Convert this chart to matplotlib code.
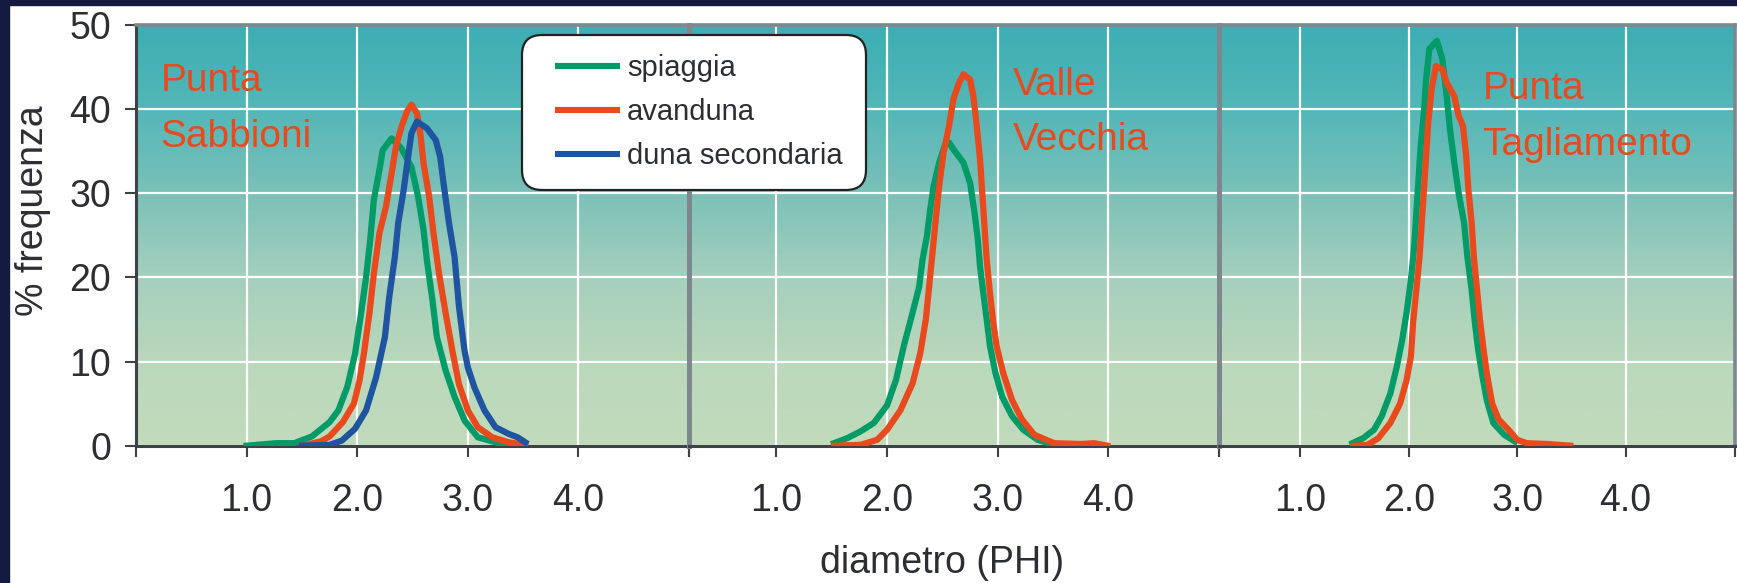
import numpy as np
import matplotlib.pyplot as plt
from matplotlib.colors import LinearSegmentedColormap
from matplotlib.patches import Rectangle, FancyBboxPatch
from matplotlib.lines import Line2D
from matplotlib.transforms import IdentityTransform

plt.rcParams['font.family'] = ['Liberation Sans', 'DejaVu Sans']

# --- dati ---
serie = ["spiaggia", "avanduna", "duna secondaria"]
siti = ["Punta\nSabbioni", "Valle\nVecchia", "Punta\nTagliamento"]

# Punta Sabbioni
ps_spiaggia_x = [1.0, 1.27, 1.43, 1.59, 1.75, 1.83, 1.91, 1.98, 2.03, 2.08, 2.12, 2.15, 2.2, 2.23, 2.31,
                 2.4, 2.49, 2.55, 2.6, 2.63, 2.68, 2.72, 2.8, 2.88, 2.97, 3.09, 3.28, 3.5]
ps_spiaggia_y = [0.0, 0.3, 0.3, 1.1, 2.8, 4.2, 7.0, 10.9, 15.3, 20.0, 24.8, 29.2, 32.7, 35.1, 36.5,
                 35.3, 33.1, 29.6, 25.6, 22.0, 17.3, 12.9, 8.9, 5.8, 3.0, 1.0, 0.3, 0.0]
ps_avanduna_x = [1.5, 1.67, 1.75, 1.87, 1.97, 2.02, 2.06, 2.11, 2.15, 2.2, 2.26, 2.31, 2.35, 2.4, 2.45,
                 2.49, 2.54, 2.57, 2.6, 2.65, 2.69, 2.74, 2.8, 2.86, 2.92, 3.0, 3.09, 3.22, 3.37, 3.52]
ps_avanduna_y = [0.0, 0.5, 1.1, 2.8, 5.0, 7.7, 10.9, 15.7, 20.4, 25.2, 28.4, 32.3, 35.5, 37.9, 39.7,
                 40.5, 39.5, 37.1, 33.5, 29.6, 25.2, 20.4, 15.7, 11.3, 7.3, 4.2, 2.2, 1.0, 0.4, 0.1]
ps_duna_x = [1.5, 1.75, 1.86, 1.98, 2.08, 2.17, 2.25, 2.29, 2.34, 2.37, 2.42, 2.46, 2.49, 2.54, 2.63,
             2.71, 2.75, 2.78, 2.83, 2.88, 2.92, 2.97, 3.0, 3.06, 3.15, 3.25, 3.37, 3.45, 3.52]
ps_duna_y = [0.0, 0.1, 0.6, 2.0, 4.2, 8.1, 12.9, 17.7, 22.4, 26.4, 30.4, 34.3, 37.1, 38.5, 37.7,
             36.3, 34.3, 31.2, 26.4, 22.4, 16.5, 11.3, 9.3, 6.9, 4.2, 2.2, 1.4, 1.0, 0.4]

# Valle Vecchia
vv_spiaggia_x = [1.52, 1.64, 1.76, 1.88, 2.0, 2.08, 2.15, 2.23, 2.29, 2.32, 2.36, 2.39, 2.42, 2.47, 2.52,
                 2.56, 2.6, 2.69, 2.75, 2.79, 2.82, 2.84, 2.87, 2.9, 2.93, 2.98, 3.04, 3.13, 3.23, 3.36, 3.51]
vv_spiaggia_y = [0.3, 0.9, 1.7, 2.7, 4.8, 7.8, 11.8, 15.8, 18.9, 22.1, 24.9, 28.1, 30.8, 33.6, 35.6,
                 36.0, 35.2, 33.6, 31.2, 27.7, 24.5, 21.3, 18.1, 15.0, 11.8, 8.6, 5.8, 3.5, 1.9, 0.7, 0.1]
vv_avanduna_x = [1.52, 1.76, 1.91, 2.0, 2.12, 2.23, 2.3, 2.35, 2.38, 2.41, 2.44, 2.47, 2.51, 2.56, 2.6,
                 2.65, 2.69, 2.75, 2.78, 2.81, 2.84, 2.86, 2.88, 2.9, 2.93, 2.96, 2.99, 3.05, 3.13, 3.22,
                 3.33, 3.51, 3.75, 3.87, 3.99]
vv_avanduna_y = [0.0, 0.1, 0.7, 1.9, 4.2, 7.4, 11.0, 15.0, 18.9, 22.9, 26.9, 30.8, 34.8, 38.0, 41.2,
                 43.1, 44.1, 43.5, 41.5, 38.0, 34.0, 30.0, 26.1, 22.1, 18.1, 14.6, 11.8, 8.6, 5.4, 3.1,
                 1.3, 0.3, 0.2, 0.3, 0.0]

# Punta Tagliamento
pt_spiaggia_x = [1.48, 1.58, 1.68, 1.75, 1.83, 1.89, 1.94, 1.98, 2.02, 2.05, 2.07, 2.09, 2.11, 2.14, 2.16,
                 2.19, 2.26, 2.31, 2.35, 2.38, 2.42, 2.46, 2.51, 2.54, 2.58, 2.61, 2.64, 2.68, 2.72, 2.78,
                 2.88, 2.98]
pt_spiaggia_y = [0.3, 0.9, 1.9, 3.5, 6.2, 9.4, 12.6, 15.8, 19.7, 23.7, 27.7, 31.6, 35.6, 39.6, 43.5,
                 47.1, 48.1, 45.9, 41.5, 37.6, 33.6, 30.0, 26.5, 22.5, 18.5, 14.6, 11.4, 8.2, 5.4, 2.7,
                 1.3, 0.5]
pt_avanduna_x = [1.49, 1.62, 1.72, 1.83, 1.92, 1.98, 2.02, 2.04, 2.07, 2.1, 2.12, 2.14, 2.16, 2.18, 2.21,
                 2.25, 2.31, 2.35, 2.42, 2.46, 2.5, 2.53, 2.55, 2.58, 2.6, 2.63, 2.66, 2.69, 2.72, 2.77,
                 2.83, 2.92, 3.0, 3.09, 3.28, 3.49]
pt_avanduna_y = [0.0, 0.1, 0.9, 2.7, 5.0, 7.8, 10.6, 14.6, 18.5, 22.5, 26.5, 30.4, 34.4, 38.4, 42.3,
                 45.1, 44.7, 43.1, 41.5, 39.2, 38.0, 34.4, 30.4, 26.5, 22.5, 18.5, 14.6, 11.4, 8.6, 5.0,
                 3.1, 1.9, 0.7, 0.3, 0.2, 0.0]

y_ticks = [0, 10, 20, 30, 40, 50]
x_ticks = [1.0, 2.0, 3.0, 4.0]

# --- stile ---
colori = {"spiaggia": "#009b67", "avanduna": "#e84a1e", "duna secondaria": "#1f54a0"}
arancio = "#e84a1e"
testo = "#2b2f33"
grigio = "#7d878d"
scuro = "#3d4247"
W, H = 1737, 583

pannelli = [
    {"sito": siti[0], "xlim": (0.0, 5.0), "pos": [0.0783, 0.2355, 0.3184, 0.7221], "txt": (0.22, 45.4),
     "curve": [("spiaggia", ps_spiaggia_x, ps_spiaggia_y), ("avanduna", ps_avanduna_x, ps_avanduna_y),
               ("duna secondaria", ps_duna_x, ps_duna_y)]},
    {"sito": siti[1], "xlim": (0.21, 5.0), "pos": [0.3967, 0.2355, 0.3051, 0.7221], "txt": (3.14, 45.0),
     "curve": [("spiaggia", vv_spiaggia_x, vv_spiaggia_y), ("avanduna", vv_avanduna_x, vv_avanduna_y)]},
    {"sito": siti[2], "xlim": (0.25, 5.01), "pos": [0.7018, 0.2355, 0.2971, 0.7221], "txt": (2.68, 44.5),
     "curve": [("spiaggia", pt_spiaggia_x, pt_spiaggia_y), ("avanduna", pt_avanduna_x, pt_avanduna_y)]},
]

sfondo = LinearSegmentedColormap.from_list(
    "sfondo", [(0.0, "#c1dbbb"), (0.2, "#bad8bb"), (0.4, "#a5cfbd"),
               (0.6, "#7bc1b8"), (0.8, "#54b7b7"), (1.0, "#3caeb4")])

fig = plt.figure(figsize=(W / 100, H / 100), dpi=100)
fig.patch.set_facecolor("white")
# cornice blu scuro
fig.patches.append(Rectangle((0, 0), 9 / W, 1, transform=fig.transFigure, color="#141a40", zorder=-1))
fig.patches.append(Rectangle((0, 1 - 5 / H), 1, 5 / H, transform=fig.transFigure, color="#141a40", zorder=-1))

for i, p in enumerate(pannelli):
    ax = fig.add_axes(p["pos"])
    x0, x1 = p["xlim"]
    grad = np.linspace(0, 1, 256).reshape(-1, 1)
    ax.imshow(grad, extent=(x0, x1, 0, 50), origin="lower", aspect="auto", cmap=sfondo, zorder=0)
    ax.set_xlim(x0, x1)
    ax.set_ylim(0, 50)
    ax.set_axisbelow(True)

    for nome, xs, ys in p["curve"]:
        ax.plot(xs, ys, color=colori[nome], lw=4.5, zorder=3)

    ax.text(p["txt"][0], p["txt"][1], p["sito"], color=arancio, fontsize=28, va="top", ha="left",
            linespacing=1.7, zorder=4)

    # tacche: etichette 1.0-4.0, tacche vuote ai bordi del pannello
    ax.set_xticks(x_ticks)
    ax.set_xticklabels([f"{t:.1f}" for t in x_ticks])
    ax.set_xticks([x0, x1], minor=True)
    ax.xaxis.grid(True, which="major", color="white", lw=1.6)
    ax.yaxis.grid(True, which="major", color="white", lw=1.6)
    ax.tick_params(axis="x", which="both", direction="out", length=8, width=1.5, color=scuro,
                   labelsize=27, labelcolor=testo, pad=19)

    ax.spines["top"].set_color(grigio)
    ax.spines["top"].set_linewidth(2.6)
    ax.spines["bottom"].set_color(scuro)
    ax.spines["bottom"].set_linewidth(2.2)
    ax.spines["right"].set_visible(False)
    if i == 0:
        ax.set_yticks(y_ticks)
        ax.set_yticklabels([str(v) for v in y_ticks])
        ax.tick_params(axis="y", direction="out", length=8, width=1.5, color=scuro,
                       labelsize=27, labelcolor=testo, pad=10)
        ax.spines["left"].set_color(scuro)
        ax.spines["left"].set_linewidth(2.2)
    else:
        ax.set_yticks(y_ticks)
        ax.tick_params(axis="y", length=0, labelleft=False)
        ax.spines["left"].set_color(grigio)
        ax.spines["left"].set_linewidth(3.6)
    if i == 2:
        ax.spines["right"].set_visible(True)
        ax.spines["right"].set_color(grigio)
        ax.spines["right"].set_linewidth(2.6)

fig.text(33 / W, 1 - 211 / H, "% frequenza", rotation=90, ha="center", va="center",
         fontsize=27, color=testo)
fig.text(942 / W, 10 / H, "diametro (PHI)", ha="center", va="baseline", fontsize=27, color=testo)

# legenda disegnata a mano (coordinate in pixel)
pix = IdentityTransform()
box = FancyBboxPatch((522, H - 190), 344, 155, boxstyle="round,pad=0,rounding_size=20",
                     facecolor="white", edgecolor="#222222", lw=1.6, transform=pix, zorder=10)
fig.add_artist(box)
for k, nome in enumerate(serie):
    yy = H - (66 + 44 * k)
    fig.add_artist(Line2D([555, 620], [yy, yy], color=colori[nome], lw=4.4, transform=pix, zorder=11,
                          solid_capstyle="butt"))
    fig.text(627, yy - 9.5, nome, transform=pix, fontsize=21, color=testo, ha="left", va="baseline",
             zorder=12)

fig.savefig("out.png", dpi=100)
